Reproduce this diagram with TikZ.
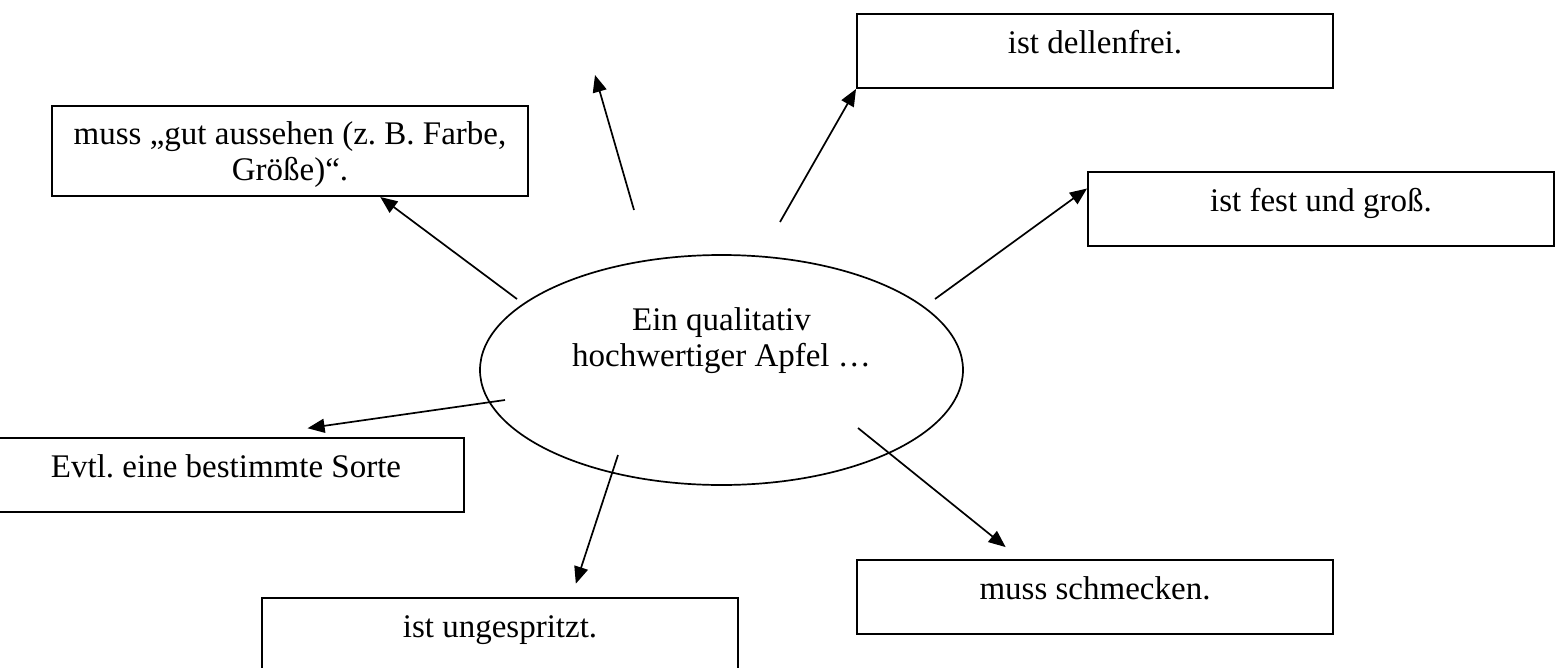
\documentclass[tikz,border=0pt]{standalone}
\usepackage{fontspec}
\setmainfont{Liberation Serif}
\usetikzlibrary{arrows.meta, shapes.geometric}
\frenchspacing

\begin{document}
\begin{tikzpicture}
	[%
	x=1pt, y=-1pt,%
	every node/.style={font=\fontsize{33}{36}\selectfont},%
	box/.style    ={rectangle,	draw=black,	line width=2pt,	inner sep=0pt,	minimum width=476pt,	minimum height=74pt,	text height=24pt,	text depth=20pt},%
	bubble/.style ={ellipse,	draw=black,	line width=1.7pt,	inner sep=0pt,	minimum width=483pt,	minimum height=230pt,	align=center,	text height=58pt,	text depth=66pt},%
	link/.style   ={line width=1.7pt,	-{Triangle[length=17pt,width=14pt]}},%
	]

	\useasboundingbox (0,0) rectangle (1558,667);

	% nodes
	% centre
	\node (apple) at (721.5,370) [bubble] {Ein qualitativ\\hochwertiger Apfel …};
	% boxes
	\foreach \n/\x/\y/\t in {dell/1095/51/ist dellenfrei., evtl/226/475/Evtl. eine bestimmte Sorte, %
												unges/500/635/ist ungespritzt., schm/1095/597/muss schmecken.}
		\node (\n) at (\x,\y) [box] {\t};
	\node (fest) at (1321,209) [box, minimum width=466pt] {ist fest und groß.};
	\node (muss) at (290,151) [box, minimum height=90pt, align=center, text height=62pt, text depth=4pt] {muss „gut aussehen (z. B. Farbe,\\Größe)“.};

	% arrow tails
	\foreach \n/\x/\y in {a/517/299, b/634/210, c/780/222, d/935/299, e/505/400, f/618/455, g/858/428}
		\coordinate (tail\n) at (\x,\y);
	\coordinate (tip) at (595,75);

	% interconnections
	% touching the boxes
	\foreach \i/\o in {a/muss.-27, c/dell.south west, d/fest.175}
		\draw [link] (tail\i) -- (\o);
	% stopping short of the boxes
	\foreach \i/\o/\s in {e/evtl.62/62, f/unges.28/14, g/schm.153/19}
		\draw [link, shorten >=\s pt] (tail\i) -- (\o);
	% to nothing
	\draw [link] (tailb) -- (tip);

\end{tikzpicture}
\end{document}
